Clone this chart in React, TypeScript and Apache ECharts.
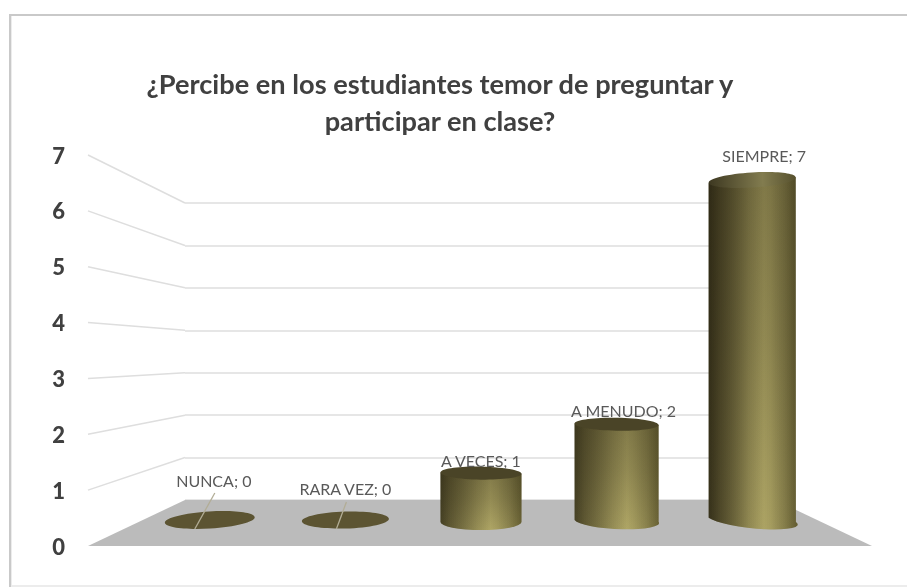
import React, { useEffect, useRef } from "react";
import * as echarts from "echarts";

const titleLines = ["¿Percibe en los estudiantes temor de preguntar y", "participar en clase?"];
const categories = ["NUNCA", "RARA VEZ", "A VECES", "A MENUDO", "SIEMPRE"];
const values = [0, 0, 1, 2, 7];
const wallTicks = [0, 1, 2, 3, 4, 5, 6, 7];
// label anchor offsets relative to each bar's top centre (dx, dy)
const labelOffsets = [[4, -42], [0, -34], [0, -13], [7, -14], [12, -25]];
const leaderLines = [[5, -29, -15, 7], [1, -20, -9, 7]];

export default function App() {
  const ref = useRef<HTMLDivElement>(null);
  useEffect(() => {
    document.body.style.margin = "0";
    const chart = echarts.init(ref.current!, undefined, { renderer: "svg" });
    const FONT = "Lato";

    const wallLine = (params: any, api: any) => {
      const v = api.value(1);
      if (v === 0) return { type: "group", children: [] };
      const a = api.coord([0, v]);
      const b = chart.convertToPixel({ gridIndex: 1 }, [0, v]) as number[];
      return {
        type: "line",
        shape: { x1: a[0], y1: a[1], x2: b[0], y2: b[1] },
        style: { stroke: "#dedede", lineWidth: 1.5 },
      };
    };

    const floor = (params: any, api: any) => {
      const fl = api.coord([0, 0]);
      const bl = chart.convertToPixel({ gridIndex: 1 }, [0, 0]) as number[];
      const br = chart.convertToPixel({ gridIndex: 1 }, [1, 0]) as number[];
      const fr = [br[0] + (bl[0] - fl[0]), fl[1]];
      return {
        type: "polygon",
        shape: { points: [fl, bl, br, fr] },
        style: { fill: "#bbbbbb" },
      };
    };

    const cylinder = (params: any, api: any) => {
      const i = params.dataIndex;
      const value = api.value(1);
      const [cx, base] = api.coord([i, 0]);
      const [, top] = api.coord([i, value]);
      const rx = 40.5 + (Math.abs(cx - 481) / 270) * 3;
      const tilt = ((cx - 481) / 270) * (cx < 481 ? 3.5 : 5.5);
      const rad = (tilt * Math.PI) / 180;
      const dy = Math.sin(rad) * rx;
      const label = `${categories[i]}; ${value}`;
      const off = labelOffsets[i];
      const text = {
        type: "text",
        z2: 10,
        x: cx + off[0],
        y: top + off[1],
        style: { text: label, fill: "#595959", font: `16px ${FONT}`, align: "center", verticalAlign: "middle" },
      };
      if (value === 0) {
        const l = leaderLines[i];
        return {
          type: "group",
          children: [
            {
              type: "ellipse",
              x: cx,
              y: base - 2,
              rotation: (-tilt * Math.PI) / 180,
              shape: { cx: 0, cy: 0, rx: rx + 1.5, ry: 8.5 },
              style: { fill: "#5c5432" },
            },
            {
              type: "line",
              z2: 5,
              shape: { x1: cx + l[0], y1: base + l[1], x2: cx + l[2], y2: base + l[3] },
              style: { stroke: "#b2ad96", lineWidth: 1.3 },
            },
            text,
          ],
        };
      }
      const tall = value > 3;
      const topTilt = tall ? -3.5 : 1;
      const topDy = Math.sin((topTilt * Math.PI) / 180) * rx;
      const bodyPath =
        `M${cx - rx} ${top - topDy} ` +
        `L${cx - rx} ${base - dy} ` +
        `A${rx} 8 ${tilt} 0 0 ${cx + rx} ${base + dy} ` +
        `L${cx + rx} ${top + topDy} Z`;
      const horizontal = new echarts.graphic.LinearGradient(0, 0, 1, 0, [
        { offset: 0, color: "#55502e" },
        { offset: 0.12, color: "#6f683d" },
        { offset: 0.62, color: "#b0a766" },
        { offset: 0.85, color: "#8f8750" },
        { offset: 1, color: "#6f6838" },
      ]);
      const vertical = new echarts.graphic.LinearGradient(0, 0, 0, 1, [
        { offset: 0, color: "rgba(35,30,12,0.32)" },
        { offset: 0.45, color: "rgba(35,30,12,0.2)" },
        { offset: 1, color: "rgba(35,30,12,0)" },
      ]);
      const sideShade = new echarts.graphic.LinearGradient(0, 0, 1, 0, [
        { offset: 0, color: "rgba(25,20,8,0.5)" },
        { offset: 0.45, color: "rgba(25,20,8,0.08)" },
        { offset: 0.7, color: "rgba(25,20,8,0)" },
        { offset: 1, color: "rgba(25,20,8,0.15)" },
      ]);
      const topEllipse = {
        type: "ellipse",
        x: cx,
        y: top,
        rotation: (-topTilt * Math.PI) / 180,
        shape: { cx: 0, cy: 0, rx, ry: tall ? 7.5 : 6.5 },
        style: {
          fill: tall
            ? new echarts.graphic.LinearGradient(0, 0, 1, 0, [
                { offset: 0, color: "#3d3821" },
                { offset: 0.62, color: "#827c4f" },
                { offset: 1, color: "#57512e" },
              ])
            : "#4a4427",
        },
      };
      return {
        type: "group",
        children: [
          { type: "path", shape: { pathData: bodyPath }, style: { fill: horizontal } },
          { type: "path", shape: { pathData: bodyPath }, style: { fill: vertical } },
          { type: "path", shape: { pathData: bodyPath }, style: { fill: sideShade, opacity: tall ? 1 : 0.45 } },
          topEllipse,
          text,
        ],
      };
    };

    chart.setOption({
      animation: false,
      backgroundColor: "#ffffff",
      title: {
        text: titleLines.join("\n"),
        left: 435,
        top: 60,
        textAlign: "center",
        textStyle: { fontFamily: FONT, fontSize: 27.2, fontWeight: "bold", color: "#404040", lineHeight: 37 },
      },
      graphic: [
        { type: "line", silent: true, shape: { x1: 9, y1: 15, x2: 907, y2: 15 }, style: { stroke: "#c9c9c9", lineWidth: 2 } },
        { type: "line", silent: true, shape: { x1: 10, y1: 14, x2: 10, y2: 587 }, style: { stroke: "#c9c9c9", lineWidth: 2 } },
        { type: "line", silent: true, shape: { x1: 11.5, y1: 16, x2: 11.5, y2: 587 }, style: { stroke: "#ececec", lineWidth: 1 } },
        { type: "line", silent: true, shape: { x1: 11, y1: 586, x2: 907, y2: 586 }, style: { stroke: "#ececec", lineWidth: 2 } },
      ],
      grid: [
        { left: 88, width: 97, top: 155, height: 391 },
        { left: 185, width: 590, top: 203, height: 297 },
        { left: 142, width: 678, top: 180, height: 342 },
      ],
      xAxis: [
        { gridIndex: 0, type: "value", min: 0, max: 1, show: false },
        { gridIndex: 1, type: "value", min: 0, max: 1, show: false },
        { gridIndex: 2, type: "category", data: categories, show: false },
      ],
      yAxis: [
        {
          gridIndex: 0,
          type: "value",
          min: 0,
          max: 7,
          interval: 1,
          axisLine: { show: false },
          axisTick: { show: false },
          splitLine: { show: false },
          axisLabel: { margin: 23, fontFamily: FONT, fontSize: 22, fontWeight: 900, color: "#404040" },
        },
        {
          gridIndex: 1,
          type: "value",
          min: 0,
          max: 7,
          interval: 1,
          axisLine: { show: false },
          axisTick: { show: false },
          axisLabel: { show: false },
          splitLine: { show: true, lineStyle: { color: "#dedede", width: 1.5 } },
        },
        { gridIndex: 2, type: "value", min: 0, max: 7, interval: 1, show: false },
      ],
      series: [
        {
          type: "custom",
          xAxisIndex: 0,
          yAxisIndex: 0,
          z: 1,
          silent: true,
          clip: false,
          data: wallTicks.map((v) => [0, v]),
          renderItem: wallLine,
        },
        {
          type: "custom",
          xAxisIndex: 0,
          yAxisIndex: 0,
          z: 2,
          silent: true,
          clip: false,
          data: [[0, 0]],
          renderItem: floor,
        },
        {
          type: "custom",
          xAxisIndex: 2,
          yAxisIndex: 2,
          z: 3,
          silent: true,
          clip: false,
          data: values.map((v, i) => [i, v]),
          renderItem: cylinder,
        },
      ],
    });
    return () => chart.dispose();
  }, []);
  return <div ref={ref} style={{ position: "absolute", left: 0, top: 0, width: 907, height: 587, filter: "blur(0.4px)" }} />;
}
